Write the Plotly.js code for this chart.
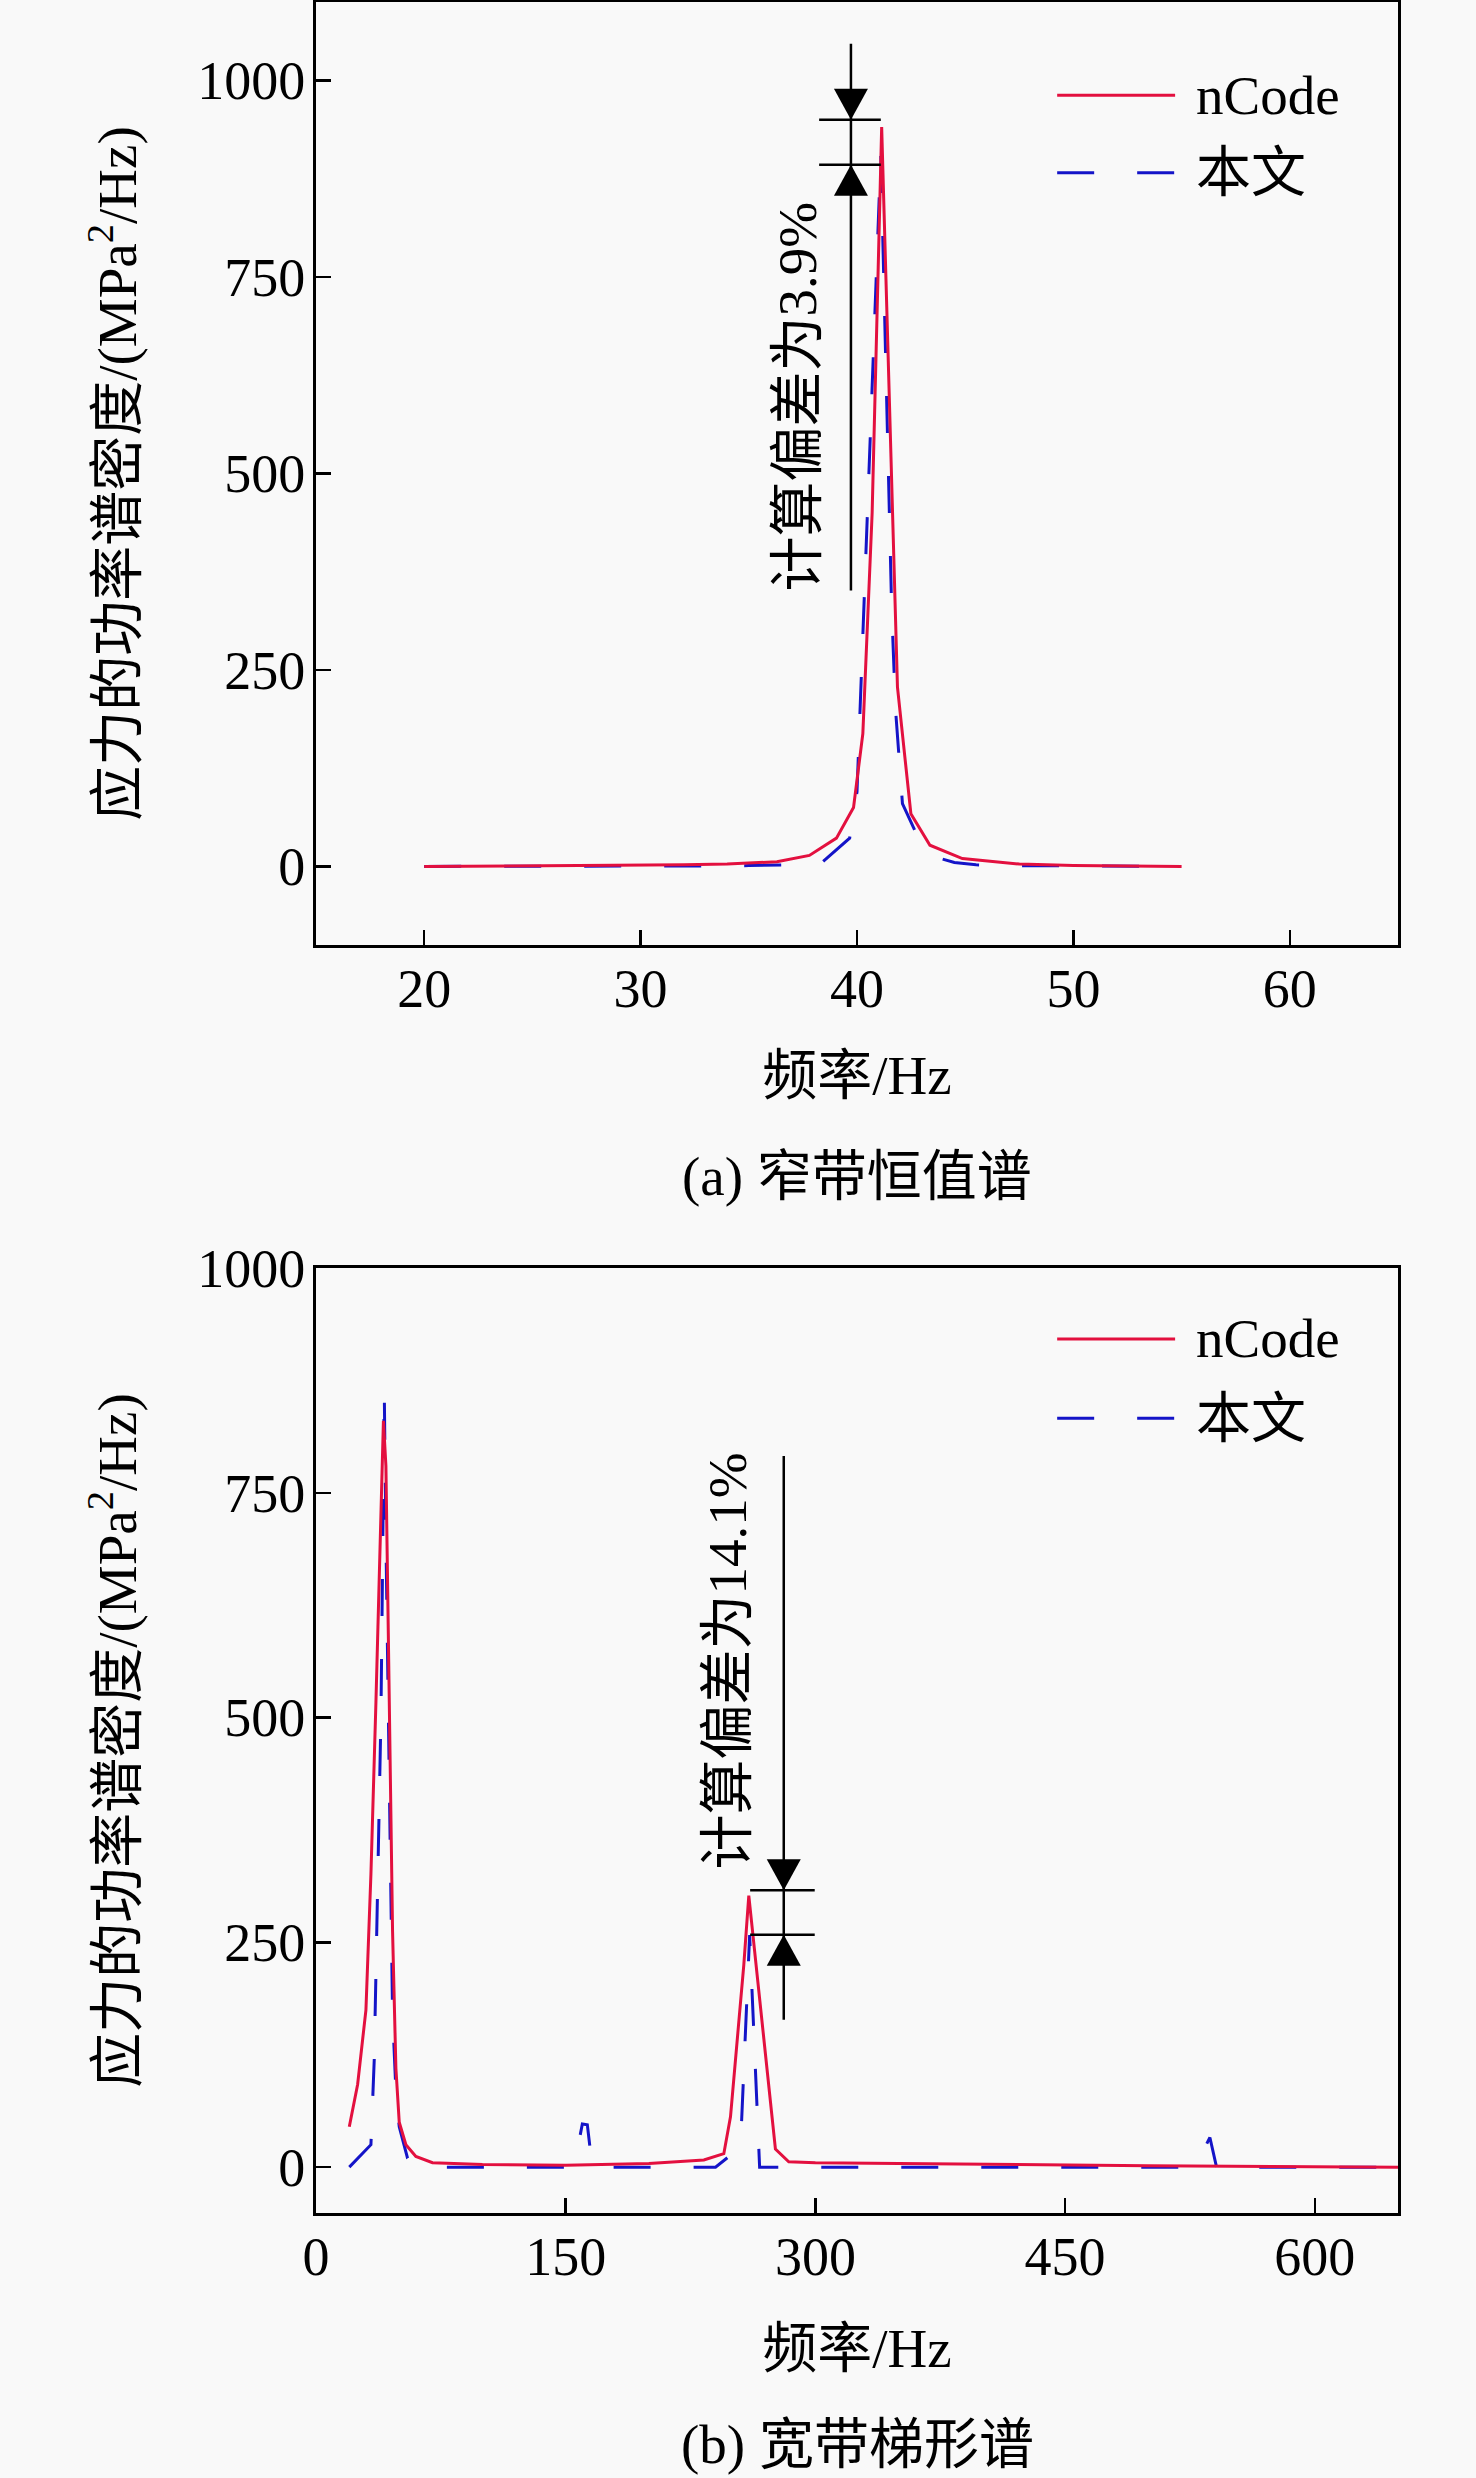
<!DOCTYPE html>
<html>
<head>
<meta charset="utf-8">
<script src="https://cdn.plot.ly/plotly-3.0.1.min.js"></script>
<style>
  html, body { margin: 0; padding: 0; background: #f9f9f9; }
</style>
</head>
<body>
<div id="chart" style="width:1476px;height:2478px"></div>
<script>
// (a) narrow band constant spectrum
const freqA_nCode = [20, 22, 24, 26, 28, 30, 32, 34, 36.3, 37.8, 39.05, 39.84, 40.27, 40.7, 41.14, 41.87, 42.49, 43.37, 44.87, 47.5, 50, 52.5, 55];
const psdA_nCode  = [0, 0.3, 0.5, 0.8, 1, 1.5, 2, 3, 6, 14, 36, 75, 169, 450, 941, 228, 67, 27, 10, 3, 1, 0.5, 0];
const freqA_ours  = [20, 24, 28, 32, 35, 37, 38.3, 39.66, 40.0, 41.1, 41.6, 41.78, 42.1, 42.7, 43.37, 44.5, 45.5, 47, 50, 55];
const psdA_ours   = [0, 0, 0, 0.5, 1, 2, 3, 36, 95, 905, 330, 200, 80, 44, 14, 5, 2, 1, 0.5, 0];

// (b) broadband trapezoid spectrum
const freqB_nCode = [20, 25, 30, 33, 36, 38, 40.5, 42, 44, 46, 48, 50, 54, 60, 70, 100, 150, 200, 233, 245, 249, 253, 257, 260, 276, 284, 300, 350, 400, 450, 500, 550, 600, 650];
const psdB_nCode  = [45, 92, 175, 326, 517, 645, 830, 780, 520, 262, 110, 50, 25, 12, 5, 3, 2, 4, 8, 15, 56, 140, 225, 302, 20, 6, 5, 4, 3, 2, 1.5, 1, 0.5, 0];
const freqB_ours  = [20, 33, 35, 37, 39, 40, 41, 42, 44, 45, 46, 48, 50, 55, 60, 155, 160, 163, 166, 240, 255, 260.5, 266.5, 528, 537, 541, 650];
const psdB_ours   = [0, 25, 120, 300, 500, 670, 865, 700, 400, 300, 170, 85, 45, 10, 0, 0, 48, 47, 0, 0, 22, 258, 0, 0, 33, 0, 0];

const seriesNames = ['nCode', '本文'];
const ticksA_x = [20, 30, 40, 50, 60];
const ticksB_x = [0, 150, 300, 450, 600];
const ticks_y = [0, 250, 500, 750, 1000];

const RED = '#e3103f';
const BLUE = '#1414c8';
const FONT = '"Liberation Serif", "Times New Roman", "Noto Sans CJK SC", serif';

const traces = [
  { x: freqA_ours, y: psdA_ours, xaxis: 'x', yaxis: 'y', name: seriesNames[1], mode: 'lines',
    line: { color: BLUE, width: 3, dash: '37px,43px' } },
  { x: freqA_nCode, y: psdA_nCode, xaxis: 'x', yaxis: 'y', name: seriesNames[0], mode: 'lines',
    line: { color: RED, width: 3 } },
  { x: freqB_ours, y: psdB_ours, xaxis: 'x2', yaxis: 'y2', name: seriesNames[1], mode: 'lines',
    line: { color: BLUE, width: 3, dash: '37px,43px' } },
  { x: freqB_nCode, y: psdB_nCode, xaxis: 'x2', yaxis: 'y2', name: seriesNames[0], mode: 'lines',
    line: { color: RED, width: 3 } }
];

const axisStyle = {
  showline: true, mirror: true, linecolor: '#000', linewidth: 3,
  ticks: 'inside', ticklen: 15, tickwidth: 2.5, tickcolor: '#000',
  showgrid: false, zeroline: false,
  tickfont: { family: FONT, size: 54, color: '#000' }
};
const ytitle = '应力的功率谱密度/(MPa<sup>2</sup>/Hz)';

// legend drawn by hand so the line samples are as long as in the figure
function legendItems(xr, yr, yRed, yBlue) {
  const shapes = [
    { type: 'line', xref: xr, yref: yr, x0: 0.685, x1: 0.794, y0: yRed, y1: yRed, line: { color: RED, width: 3 } },
    { type: 'line', xref: xr, yref: yr, x0: 0.685, x1: 0.794, y0: yBlue, y1: yBlue, line: { color: BLUE, width: 3, dash: '37px,43px' } }
  ];
  const notes = [
    { xref: xr, yref: yr, x: 0.811, y: yRed, text: seriesNames[0], showarrow: false, xanchor: 'left', yanchor: 'middle', font: { size: 55 } },
    { xref: xr, yref: yr, x: 0.811, y: yBlue, text: seriesNames[1], showarrow: false, xanchor: 'left', yanchor: 'middle', font: { size: 55 } }
  ];
  return { shapes, notes };
}

// deviation marker: vertical line, two level lines, two filled arrowheads
function deviationMark(xr, yr, xLine, yLo, yHi, xFrom, xTo, upper, lower) {
  const blk = { color: '#000', width: 2.5 };
  return [
    { type: 'line', xref: xr, yref: yr, x0: xLine, x1: xLine, y0: yLo, y1: yHi, line: blk },
    { type: 'line', xref: xr, yref: yr, x0: xFrom, x1: xTo, y0: upper, y1: upper, line: blk },
    { type: 'line', xref: xr, yref: yr, x0: xFrom, x1: xTo, y0: lower, y1: lower, line: blk },
    { type: 'path', xref: xr, yref: yr, xsizemode: 'pixel', ysizemode: 'pixel', xanchor: xLine, yanchor: upper,
      path: 'M-17,31L17,31L0,0Z', fillcolor: '#000', line: { width: 0 } },
    { type: 'path', xref: xr, yref: yr, xsizemode: 'pixel', ysizemode: 'pixel', xanchor: xLine, yanchor: lower,
      path: 'M-17,-31L17,-31L0,0Z', fillcolor: '#000', line: { width: 0 } }
  ];
}

const legA = legendItems('x domain', 'y domain', 0.901, 0.819);
const legB = legendItems('x2 domain', 'y2 domain', 0.925, 0.841);

const shapes = [
  ...legA.shapes, ...legB.shapes,
  ...deviationMark('x', 'y', 39.72, 351, 1047, 38.25, 41.1, 950, 893),
  ...deviationMark('x2', 'y2', 281, 164, 791, 260.8, 299.6, 308, 258.5)
];

const annotations = [
  ...legA.notes, ...legB.notes,
  { xref: 'x', yref: 'y', x: 37.23, y: 598, text: '计算偏差为3.9%', textangle: -90, showarrow: false,
    xanchor: 'center', yanchor: 'middle', font: { size: 55 } },
  { xref: 'x2', yref: 'y2', x: 247.3, y: 563, text: '计算偏差为14.1%', textangle: -90, showarrow: false,
    xanchor: 'center', yanchor: 'middle', font: { size: 55 } },
  { xref: 'paper', yref: 'paper', x: 0.5, y: 0.4686, text: '(a) 窄带恒值谱', showarrow: false,
    xanchor: 'center', yanchor: 'middle', font: { size: 55 } },
  { xref: 'paper', yref: 'paper', x: 0.5, y: -0.1049, text: '(b) 宽带梯形谱', showarrow: false,
    xanchor: 'center', yanchor: 'middle', font: { size: 55 } }
];

const layout = {
  width: 1476, height: 2478,
  margin: { l: 316, r: 78, t: 2, b: 265 },
  paper_bgcolor: '#f9f9f9', plot_bgcolor: '#f9f9f9',
  showlegend: false,
  font: { family: FONT, size: 54, color: '#000' },
  xaxis: { ...axisStyle, domain: [0, 1], anchor: 'y', range: [15, 65], tickvals: ticksA_x, ticklabelstandoff: -6,
    title: { text: '频率/Hz', font: { size: 55 }, standoff: 38 } },
  yaxis: { ...axisStyle, domain: [0.5735, 1], anchor: 'x', range: [-100, 1100], tickvals: ticks_y, ticklabelstandoff: -3,
    title: { text: ytitle, font: { size: 55 }, standoff: 43 } },
  xaxis2: { ...axisStyle, domain: [0, 1], anchor: 'y2', range: [0, 650], tickvals: ticksB_x, ticklabelstandoff: -6,
    title: { text: '频率/Hz', font: { size: 55 }, standoff: 43 } },
  yaxis2: { ...axisStyle, domain: [0, 0.4274], anchor: 'x2', range: [-51, 1000], tickvals: ticks_y, ticklabelstandoff: -3,
    title: { text: ytitle, font: { size: 55 }, standoff: 43 } },
  shapes: shapes,
  annotations: annotations
};

Plotly.newPlot('chart', traces, layout, { displayModeBar: false, staticPlot: true });
</script>
</body>
</html>
